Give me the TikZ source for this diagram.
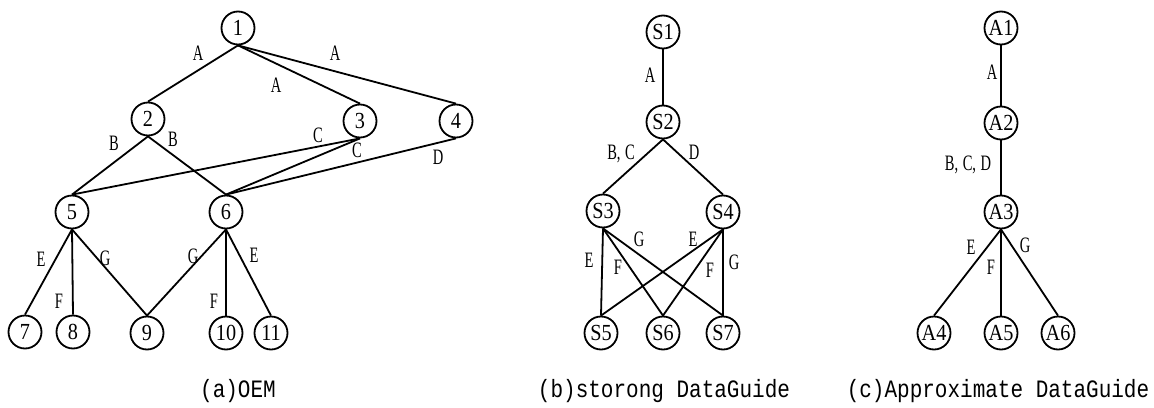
\documentclass[tikz,border=0pt]{standalone}
\usepackage{fontspec}
\setmainfont[FakeStretch=0.88]{Liberation Serif}
\newfontfamily\lblfont[FakeStretch=0.66]{Liberation Serif}
\newfontfamily\capfont[FakeStretch=0.84]{Liberation Mono}
\begin{document}
\begin{tikzpicture}[x=1pt,y=-1pt,
  vtx/.style={circle,draw,line width=1.8pt,minimum size=33pt,inner sep=0pt,font=\fontsize{23}{23}\selectfont},
  edge/.style={line width=1.8pt},
  lbl/.style={inner sep=0pt,font=\lblfont\fontsize{22}{22}\selectfont},
  captext/.style={inner sep=0pt,font=\capfont\fontsize{25}{25}\selectfont}]
\useasboundingbox (0,0) rectangle (1154,407);
% (a) OEM
\node[vtx] (n1) at (238,28) {1};
\node[vtx] (n2) at (148,119) {2};
\node[vtx] (n3) at (360,121) {3};
\node[vtx] (n4) at (456,121) {4};
\node[vtx] (n5) at (72,212) {5};
\node[vtx] (n6) at (226,212) {6};
\node[vtx] (n7) at (25,332) {7};
\node[vtx] (n8) at (73,332) {8};
\node[vtx] (n9) at (147,333) {9};
\node[vtx] (n10) at (226,333) {10};
\node[vtx] (n11) at (271,333) {11};
\draw[edge] (n1.south) -- (n2.north);
\draw[edge] (n1.south) -- (n3.north);
\draw[edge] (n1.south) -- (n4.north);
\draw[edge] (n2.south) -- (n5.north);
\draw[edge] (n2.south) -- (n6.north);
\draw[edge] (n3.south) -- (n5.north);
\draw[edge] (n3.south) -- (n6.north);
\draw[edge] (n4.south) -- (n6.north);
\draw[edge] (n5.south) -- (n7.north);
\draw[edge] (n5.south) -- (n8.north);
\draw[edge] (n5.south) -- (n9.north);
\draw[edge] (n6.south) -- (n9.north);
\draw[edge] (n6.south) -- (n10.north);
\draw[edge] (n6.south) -- (n11.north);
\node[lbl] (la1) at (198,53) {A};
\node[lbl] (la2) at (276,85) {A};
\node[lbl] (la3) at (335,53) {A};
\node[lbl] (lb1) at (114,143) {B};
\node[lbl] (lb2) at (173,139) {B};
\node[lbl] (lc1) at (318,135) {C};
\node[lbl] (lc2) at (357,150) {C};
\node[lbl] (ld1) at (438,157) {D};
\node[lbl] (le1) at (41,259) {E};
\node[lbl] (lf1) at (59,301) {F};
\node[lbl] (lg1) at (105,258) {G};
\node[lbl] (lg2) at (193,256) {G};
\node[lbl] (lf2) at (214,301) {F};
\node[lbl] (le2) at (254,255) {E};
\node[captext] (capa) at (238,391) {(a)OEM};
% (b) strong DataGuide
\node[vtx] (s1) at (663,32) {S1};
\node[vtx] (s2) at (663,122) {S2};
\node[vtx] (s3) at (603,211) {S3};
\node[vtx] (s4) at (723,212) {S4};
\node[vtx] (s5) at (601,333) {S5};
\node[vtx] (s6) at (663,333) {S6};
\node[vtx] (s7) at (723,333) {S7};
\draw[edge] (s1.south) -- (s2.north);
\draw[edge] (s2.south) -- (s3.north);
\draw[edge] (s2.south) -- (s4.north);
\draw[edge] (s3.south) -- (s5.north);
\draw[edge] (s3.south) -- (s6.north);
\draw[edge] (s3.south) -- (s7.north);
\draw[edge] (s4.south) -- (s5.north);
\draw[edge] (s4.south) -- (s6.north);
\draw[edge] (s4.south) -- (s7.north);
\node[lbl] (sa) at (650,75) {A};
\node[lbl] (sbc) at (621,154) {B,\hspace{4.5pt}C};
\node[lbl] (sd) at (694,152) {D};
\node[lbl] (se1) at (589,260) {E};
\node[lbl] (sf1) at (618,267) {F};
\node[lbl] (sg1) at (639,239) {G};
\node[lbl] (se2) at (693,239) {E};
\node[lbl] (sf2) at (710,270) {F};
\node[lbl] (sg2) at (734,262) {G};
\node[captext] (capb) at (664,391) {(b)storong DataGuide};
% (c) Approximate DataGuide
\node[vtx] (a1) at (1001,28) {A1};
\node[vtx] (a2) at (1001,123) {A2};
\node[vtx] (a3) at (1001,212) {A3};
\node[vtx] (a4) at (934,333) {A4};
\node[vtx] (a5) at (1001,333) {A5};
\node[vtx] (a6) at (1058,333) {A6};
\draw[edge] (a1.south) -- (a2.north);
\draw[edge] (a2.south) -- (a3.north);
\draw[edge] (a3.south) -- (a4.north);
\draw[edge] (a3.south) -- (a5.north);
\draw[edge] (a3.south) -- (a6.north);
\node[lbl] (ca) at (992,72) {A};
\node[lbl] (cbcd) at (968,165) {B,\hspace{4.5pt}C,\hspace{4.5pt}D};
\node[lbl] (ce) at (971,247) {E};
\node[lbl] (cf) at (991,267) {F};
\node[lbl] (cg) at (1025,245) {G};
\node[captext] (capc) at (998,391) {(c)Approximate DataGuide};
\end{tikzpicture}
\end{document}
